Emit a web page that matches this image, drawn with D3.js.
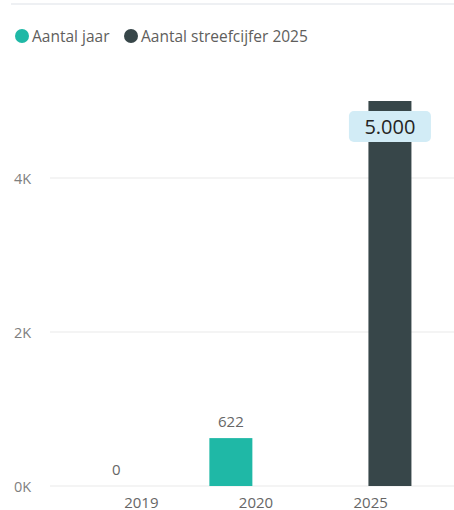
<!DOCTYPE html>
<html><head><meta charset="utf-8">
<script src="https://cdnjs.cloudflare.com/ajax/libs/d3/7.8.5/d3.min.js"></script>
<style>body{margin:0;background:#fff;font-family:"Segoe UI","Open Sans",sans-serif;}</style>
</head><body><svg id="c" width="454" height="510"></svg>
<script>
const categories = ["2019", "2020", "2025"];
const seriesNames = ["Aantal jaar", "Aantal streefcijfer 2025"];
const aantalJaar = [0, 622, null];
const streefcijfer = [null, null, 5000];
const yTicks = [0, 2000, 4000];
const yTickLabels = ["0K", "2K", "4K"];
const colors = ["#1fb8a6", "#374649"];

const svg = d3.select("#c");
const font = "'Open Sans', sans-serif";

// top divider
svg.append("line").attr("x1", 11).attr("x2", 454).attr("y1", 4).attr("y2", 4)
  .attr("stroke", "#eef0f3").attr("stroke-width", 2);

// legend
const legendX = [22, 131];
seriesNames.forEach((n, i) => {
  svg.append("circle").attr("cx", legendX[i]).attr("cy", 36).attr("r", 7).attr("fill", colors[i]);
  svg.append("text").attr("x", legendX[i] + 10).attr("y", 41.5).text(n)
    .attr("font-family", font).attr("font-size", 15.5).attr("fill", "#605e5c");
});

const y = d3.scaleLinear().domain([0, 5000]).range([486, 101]);
const x = d3.scaleBand().domain(categories).range([84, 428]).paddingInner(0).paddingOuter(0);
const xs = d3.scaleBand().domain([0, 1]).range([10, 98.8]).paddingInner(0).paddingOuter(0);

// gridlines + y labels
yTicks.forEach((t, i) => {
  svg.append("line").attr("x1", 50).attr("x2", 454).attr("y1", y(t)).attr("y2", y(t))
    .attr("stroke", "#eaeaea").attr("stroke-width", 1.2);
  svg.append("text").attr("x", 14).attr("y", y(t) + 5.5).text(yTickLabels[i])
    .attr("font-family", font).attr("font-size", 14.5).attr("fill", "#7f7f7f");
});

// x labels
categories.forEach(c => {
  svg.append("text").attr("x", x(c) + x.bandwidth() / 2).attr("y", 507.5).attr("text-anchor", "middle")
    .text(c).attr("font-family", font).attr("font-size", 15).attr("fill", "#666");
});

const series = [aantalJaar, streefcijfer];
const bw = 43;
series.forEach((vals, si) => {
  vals.forEach((v, ci) => {
    if (v === null) return;
    const cx = x(categories[ci]) + xs(si) + xs.bandwidth() / 2;
    if (v > 0) {
      svg.append("rect").attr("x", cx - bw / 2).attr("width", bw)
        .attr("y", y(v)).attr("height", y(0) - y(v)).attr("fill", colors[si]);
    }
    if (si === 0) {
      svg.append("text").attr("x", cx).attr("y", y(v) - 11).attr("text-anchor", "middle")
        .text(d3.format(",")(v).replace(/,/g, "."))
        .attr("font-family", font).attr("font-size", 15).attr("fill", "#666");
    } else {
      const ly = y(v) + 25;
      svg.append("rect").attr("x", cx - 41).attr("y", ly - 15).attr("width", 82).attr("height", 31)
        .attr("rx", 5).attr("fill", "#d2ecf6");
      svg.append("text").attr("x", cx).attr("y", ly + 7.5).attr("text-anchor", "middle")
        .text(d3.format(",")(v).replace(/,/g, "."))
        .attr("font-family", font).attr("font-size", 20).attr("fill", "#252423");
    }
  });
});
</script></body></html>
